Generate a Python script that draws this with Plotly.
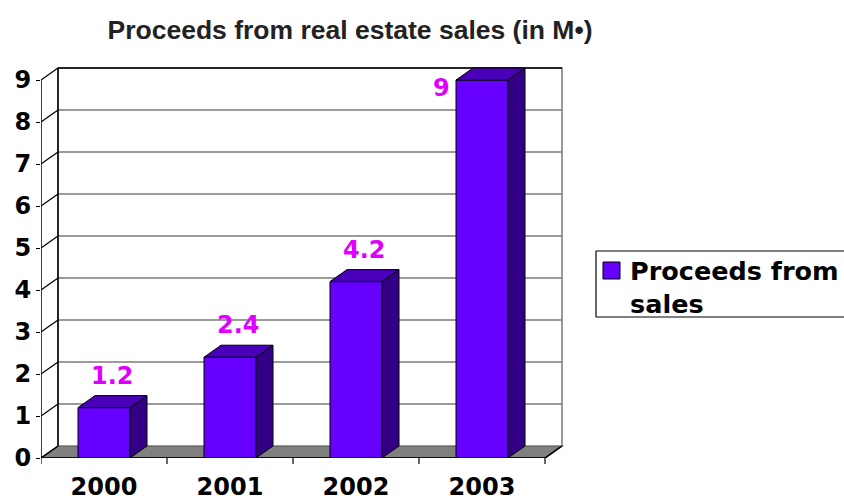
import plotly.graph_objects as go

# ---- data ----
years = ["2000", "2001", "2002", "2003"]
proceeds = [1.2, 2.4, 4.2, 9]
y_ticks = [0, 1, 2, 3, 4, 5, 6, 7, 8, 9]
series_name = "Proceeds from sales"
title_text = "Proceeds from real estate sales (in M\u2022)"

# ---- geometry of the pseudo-3D frame ----
W, H = 844, 500
PX_CAT = 126          # pixels per category
PX_UNIT = 42          # pixels per value unit
DEPTH_X, DEPTH_Y = 17, 12   # depth offset of the back wall in pixels
dx = DEPTH_X / PX_CAT
dy = DEPTH_Y / PX_UNIT
bar_w = 52 / PX_CAT

n = len(years)
x_lo = -0.5
x_hi = n - 0.5
y_max = max(y_ticks)
x_range = [x_lo, x_hi + dx + 2 / PX_CAT]
y_range = [0, y_max + dy + 2 / PX_UNIT]

plot_w = PX_CAT * (x_range[1] - x_range[0])
plot_h = PX_UNIT * (y_range[1] - y_range[0])
m_l, m_b = 41, 42
m_r = W - m_l - plot_w
m_t = H - m_b - plot_h

FRONT = "#6600FF"
TOP = "#4A00B8"
SIDE = "#330085"
LABEL = "#E000FF"
GRID = "#7A7A7A"
FLOOR = "#808080"
TEXT_FONT = dict(family="DejaVu Sans", size=24, color="black", weight="bold")

fig = go.Figure()

# front faces of the bars
fig.add_trace(go.Bar(
    x=list(range(n)), y=proceeds, width=bar_w,
    marker=dict(color=FRONT, line=dict(color="black", width=1)),
    showlegend=False, hoverinfo="skip",
))

# top and side faces of the bars
for i, v in enumerate(proceeds):
    xl, xr = i - bar_w / 2, i + bar_w / 2
    fig.add_trace(go.Scatter(
        x=[xl, xr, xr + dx, xl + dx, xl], y=[v, v, v + dy, v + dy, v],
        mode="lines", fill="toself", fillcolor=TOP,
        line=dict(color="black", width=1), showlegend=False, hoverinfo="skip",
    ))
    fig.add_trace(go.Scatter(
        x=[xr, xr + dx, xr + dx, xr, xr], y=[0, dy, v + dy, v, 0],
        mode="lines", fill="toself", fillcolor=SIDE,
        line=dict(color="black", width=1), showlegend=False, hoverinfo="skip",
    ))

# front axis lines (value axis and category axis)
fig.add_trace(go.Scatter(
    x=[x_lo, x_lo], y=[0, y_max], mode="lines",
    line=dict(color="black", width=1.5), cliponaxis=False,
    showlegend=False, hoverinfo="skip",
))
fig.add_trace(go.Scatter(
    x=[x_lo, x_hi, x_hi + dx], y=[0, 0, dy], mode="lines",
    line=dict(color="black", width=1.5), cliponaxis=False,
    showlegend=False, hoverinfo="skip",
))

shapes = []
# floor
shapes.append(dict(
    type="path", xref="x", yref="y", layer="below",
    path=f"M{x_lo},0 L{x_hi},0 L{x_hi + dx},{dy} L{x_lo + dx},{dy} Z",
    fillcolor=FLOOR, line=dict(color="black", width=1.2),
))
# back wall
shapes.append(dict(
    type="rect", xref="x", yref="y", layer="below",
    x0=x_lo + dx, x1=x_hi + dx, y0=dy, y1=y_max + dy,
    fillcolor="white", line=dict(color=GRID, width=1.5),
))
# back wall gridlines
for t in y_ticks[1:-1]:
    shapes.append(dict(
        type="line", xref="x", yref="y", layer="below",
        x0=x_lo + dx, x1=x_hi + dx, y0=t + dy, y1=t + dy,
        line=dict(color=GRID, width=1.5),
    ))
# back wall top edge and left corner
shapes.append(dict(
    type="line", xref="x", yref="y", layer="below",
    x0=x_lo + dx, x1=x_hi + dx, y0=y_max + dy, y1=y_max + dy,
    line=dict(color="black", width=1.5),
))
shapes.append(dict(
    type="line", xref="x", yref="y", layer="below",
    x0=x_lo + dx, x1=x_lo + dx, y0=dy, y1=y_max + dy,
    line=dict(color="black", width=1.5),
))
# side wall gridlines
for t in y_ticks:
    shapes.append(dict(
        type="line", xref="x", yref="y", layer="below",
        x0=x_lo, x1=x_lo + dx, y0=t, y1=t + dy,
        line=dict(color="black", width=1.2),
    ))
# category boundary tick marks
for b in [k - 0.5 for k in range(n + 1)]:
    shapes.append(dict(
        type="line", xref="x", yref="paper", ysizemode="pixel", yanchor=0,
        x0=b, x1=b, y0=0, y1=-6, line=dict(color="black", width=1.2),
    ))


# legend box drawn in pixel positions; it runs off the right edge
def px(xp):
    return (xp - m_l) / plot_w


def py(yp):
    return (H - m_b - yp) / plot_h


lx0, lx1, ly_top, ly_bot = px(596), px(1000), py(251), py(317)
legend_edge = dict(color="black", width=1.2)
shapes.append(dict(type="line", xref="paper", yref="paper",
                   x0=lx0, x1=lx1, y0=ly_top, y1=ly_top, line=legend_edge))
shapes.append(dict(type="line", xref="paper", yref="paper",
                   x0=lx0, x1=lx1, y0=ly_bot, y1=ly_bot, line=legend_edge))
shapes.append(dict(type="line", xref="paper", yref="paper",
                   x0=lx0, x1=lx0, y0=ly_bot, y1=ly_top, line=legend_edge))
shapes.append(dict(
    type="rect", xref="paper", yref="paper",
    x0=px(603), x1=px(620), y0=py(279), y1=py(262),
    fillcolor=FRONT, line=dict(color="black", width=1),
))

annotations = []
# value labels
for i, v in enumerate(proceeds):
    if v + dy + 30 / PX_UNIT > y_range[1]:
        annotations.append(dict(
            x=i - bar_w / 2, y=v, xref="x", yref="y", text=str(v),
            xanchor="right", yanchor="middle", xshift=-4, yshift=-8,
            showarrow=False, font=dict(TEXT_FONT, color=LABEL),
        ))
    else:
        annotations.append(dict(
            x=i + dx / 2, y=v + dy, xref="x", yref="y", text=str(v),
            xanchor="center", yanchor="middle", yshift=20,
            showarrow=False, font=dict(TEXT_FONT, color=LABEL),
        ))

annotations.append(dict(
    x=px(628), y=py(254), xref="paper", yref="paper",
    text=series_name.replace("from ", "from<br>"),
    xanchor="left", yanchor="top", align="left", showarrow=False,
    font=dict(TEXT_FONT, size=25.5),
))

fig.update_layout(
    width=W, height=H,
    margin=dict(l=m_l, r=m_r, t=m_t, b=m_b, autoexpand=False),
    paper_bgcolor="white", plot_bgcolor="white",
    title=dict(
        text=title_text, x=350 / W, xanchor="center", xref="container",
        y=1 - 30 / H, yanchor="middle",
        font=dict(family="Liberation Sans", size=26.5, color="#222222", weight="bold"),
    ),
    xaxis=dict(
        range=x_range, tickvals=list(range(n)), ticktext=years, ticks="",
        showgrid=False, zeroline=False, showline=False,
        tickfont=TEXT_FONT, ticklabelstandoff=12,
    ),
    yaxis=dict(
        range=y_range, tickvals=y_ticks, ticks="outside", ticklen=4,
        tickcolor="black", tickwidth=1.2,
        showgrid=False, zeroline=False, showline=False,
        tickfont=TEXT_FONT,
    ),
    shapes=shapes,
    annotations=annotations,
    showlegend=False,
)

fig.write_html("out.html")
